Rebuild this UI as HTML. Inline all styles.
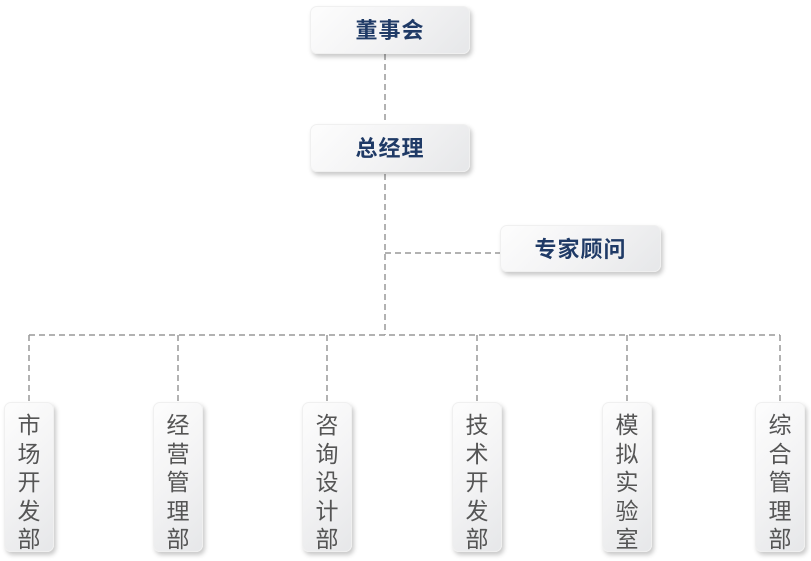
<!DOCTYPE html>
<html><head><meta charset="utf-8"><style>
body{margin:0;width:811px;height:561px;background:#fff;position:relative;overflow:hidden;font-family:"Liberation Sans","Noto Sans CJK SC",sans-serif}
.b{position:absolute;box-sizing:border-box;border-radius:7px;background:linear-gradient(135deg,#fdfdfd 0%,#f3f3f4 50%,#e6e7e9 100%);box-shadow:2px 3px 5px rgba(0,0,0,0.22);border:1px solid #f0f0f0}
.t{width:160px;height:48px;color:#1f3a66;font-size:22px;font-weight:bold;text-align:center;line-height:48px;letter-spacing:1px}
.v{width:50px;height:150px;top:402px;color:#555;font-size:23px;text-align:center;line-height:28.5px;padding-top:8px}
svg{position:absolute;left:0;top:0}
</style></head><body>
<svg width="811" height="561"><g stroke="#999" stroke-width="1.5" stroke-dasharray="6,4" fill="none">
<path d="M385 54V335"/><path d="M385 253H500"/><path d="M29 335H780"/>
<path d="M29 335V402M178 335V402M327 335V402M477 335V402M627 335V402M780 335V402"/>
</g></svg>
<div class="b t" style="left:310px;top:6px">董事会</div>
<div class="b t" style="left:310px;top:124px">总经理</div>
<div class="b t" style="left:500px;top:225px;width:161px;height:47px;line-height:47px">专家顾问</div>
<div class="b v" style="left:4px">市<br>场<br>开<br>发<br>部</div>
<div class="b v" style="left:153px">经<br>营<br>管<br>理<br>部</div>
<div class="b v" style="left:302px">咨<br>询<br>设<br>计<br>部</div>
<div class="b v" style="left:452px">技<br>术<br>开<br>发<br>部</div>
<div class="b v" style="left:602px">模<br>拟<br>实<br>验<br>室</div>
<div class="b v" style="left:755px">综<br>合<br>管<br>理<br>部</div>
</body></html>
